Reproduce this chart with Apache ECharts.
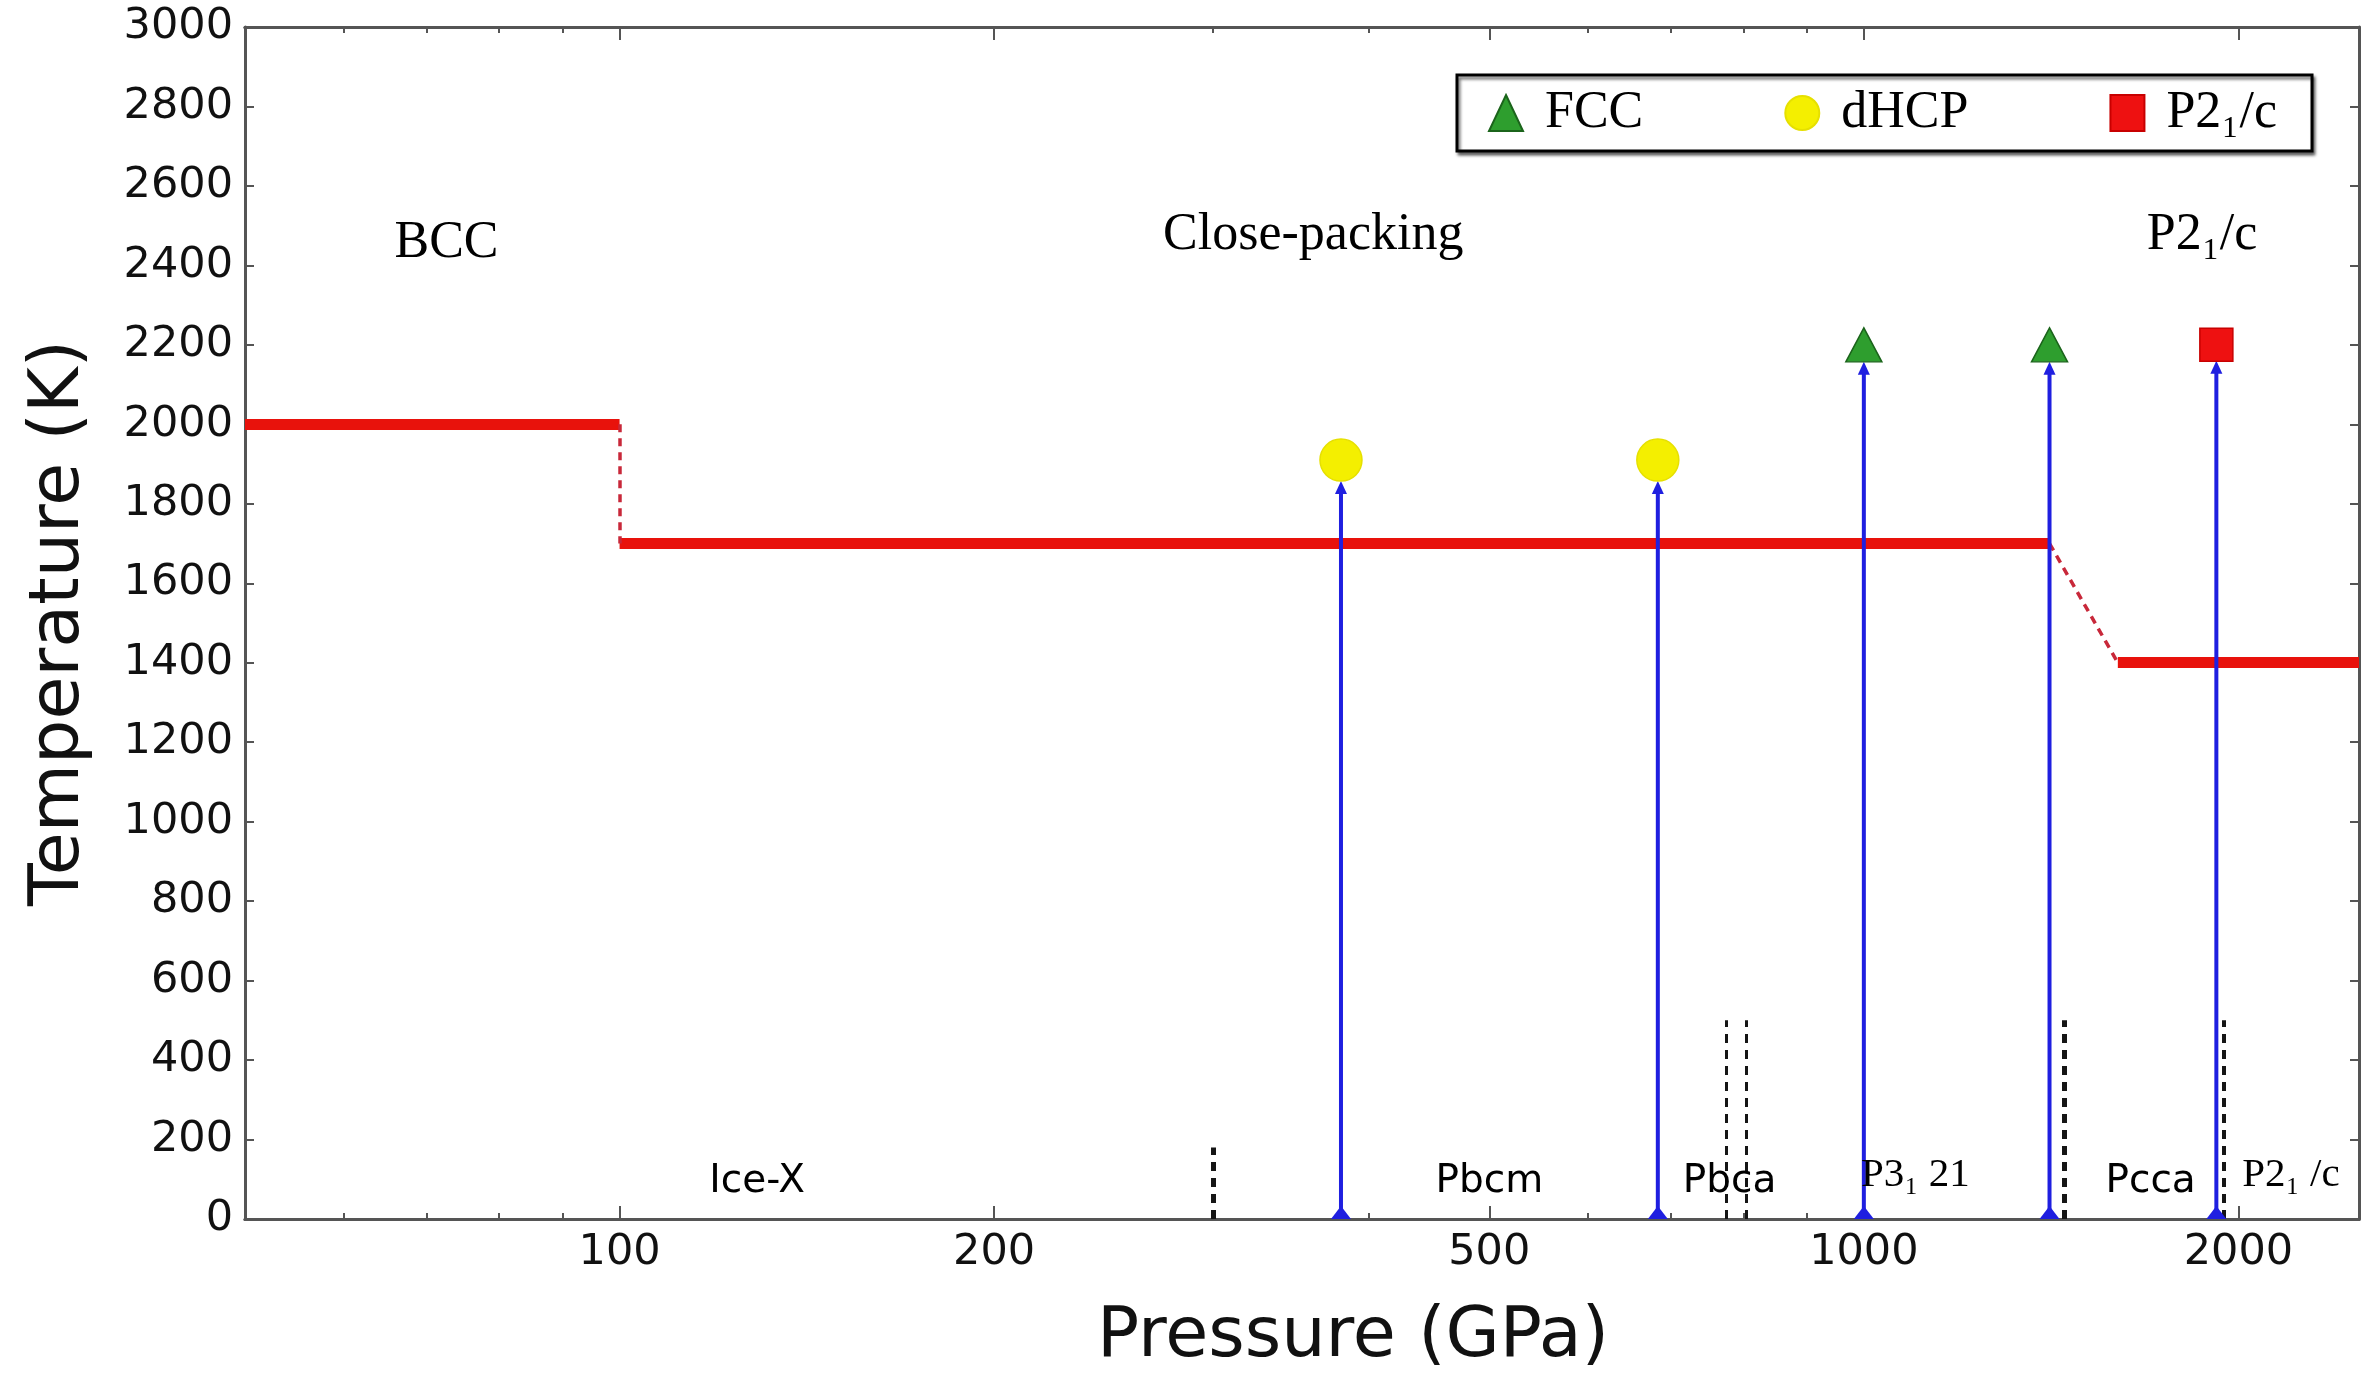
<!DOCTYPE html>
<html>
<head>
<meta charset="utf-8">
<script src="https://cdn.jsdelivr.net/npm/echarts@6/dist/echarts.min.js"></script>
<style>
  html, body { margin: 0; padding: 0; background: #fff; }
  #chart { width: 2362px; height: 1383px; }
</style>
</head>
<body>
<div id="chart"></div>
<script>
// axis ranges
const pressureMin = 50, pressureMax = 2500;
const tempMin = 0, tempMax = 3000, tempStep = 200;
const pressureTicks = [100, 200, 500, 1000, 2000];
const pressureMinorTicks = [60, 70, 80, 90, 300, 400, 600, 700, 800, 900];

// red melting curve: solid pieces and dashed joins
const meltSolid = [
  [[50, 2000], [100, 2000]],
  [[100, 1700], [1410, 1700]],
  [[1600, 1400], [2500, 1400]]
];
const meltDashed = [
  [[100, 2000], [100, 1700]],
  [[1410, 1700], [1600, 1400]]
];

// blue arrows: pressure, final temperature, phase found
const runPressure = [380, 683, 1000, 1410, 1920];
const runTemp = [1910, 1910, 2200, 2200, 2200];
const runPhase = ['dHCP', 'dHCP', 'FCC', 'FCC', 'P21/c'];

// black dashed low temperature boundaries
const boundaryPressure = [300, 775, 805, 1450, 1945];
const boundaryTemp = [180, 500, 500, 500, 500];
const boundaryWidth = [5, 3, 3, 5, 4];

// region labels (serif, upper part)
const regionNames = ['BCC', 'Close-packing', 'P2\u2081/c'];
const regionP = [72.6, 361, 1870];
const regionT = [2455, 2475, 2475];

// solid phase labels (bottom)
const lowNames = ['Ice-X', 'Pbcm', 'Pbca', 'P3\u2081 21', 'Pcca', 'P2\u2081 /c'];
const lowP = [129, 500, 780, 1100, 1700, 2204];
const lowT = [93, 93, 93, 111, 93, 111];
const lowSerif = [false, false, false, true, false, true];

const blue = '#1f1fe0';
const phaseStyle = {
  'FCC':   { symbol: 'triangle', size: [36, 34], color: '#2e9e2e', border: '#1b641b', gap: 17 },
  'dHCP':  { symbol: 'circle',   size: 42,       color: '#f4ef00', border: '#e6e000', gap: 21 },
  'P21/c': { symbol: 'rect',     size: 33,       color: '#ee1111', border: '#c80000', gap: 16 }
};

const sans = 'DejaVu Sans';
const serif = 'Liberation Serif';
const axisColor = '#555';
const plain = v => String(v);

function xAxisBase(pos, ticks, len, labels) {
  return {
    type: 'log', logBase: 10, min: pressureMin, max: pressureMax, position: pos,
    axisLine: { show: true, lineStyle: { color: axisColor, width: 3 } },
    axisTick: { show: true, inside: true, length: len, customValues: ticks, lineStyle: { color: axisColor, width: 2 } },
    axisLabel: labels ? { show: true, customValues: ticks, formatter: plain, margin: 12, fontFamily: sans, fontSize: 43, color: '#111' } : { show: false },
    splitLine: { show: false }, minorTick: { show: false }
  };
}
function yAxisBase(pos, labels) {
  return {
    type: 'value', min: tempMin, max: tempMax, interval: tempStep, position: pos,
    axisLine: { show: true, lineStyle: { color: axisColor, width: 3 } },
    axisTick: { show: true, inside: true, length: 9, lineStyle: { color: axisColor, width: 2 } },
    axisLabel: labels ? { show: true, formatter: plain, margin: 12, fontFamily: sans, fontSize: 43, color: '#111' } : { show: false },
    splitLine: { show: false }
  };
}

const xMain = xAxisBase('bottom', pressureTicks, 13, true);
xMain.name = 'Pressure (GPa)';
xMain.nameLocation = 'middle';
xMain.nameGap = 84;
xMain.nameTextStyle = { fontFamily: sans, fontSize: 70, color: '#111', lineHeight: 70, padding: [0, 0, 0, 102] };

const yMain = yAxisBase('left', true);
yMain.name = 'Temperature (K)';
yMain.nameLocation = 'middle';
yMain.nameRotate = 90;
yMain.nameGap = 150;
yMain.nameTextStyle = { fontFamily: sans, fontSize: 70, color: '#111', lineHeight: 70 };

const markerSeries = Object.keys(phaseStyle).map(name => {
  const s = phaseStyle[name];
  return {
    type: 'scatter', name: name, symbol: s.symbol, symbolSize: s.size, z: 6,
    itemStyle: { color: s.color, borderColor: s.border, borderWidth: 1.5, opacity: 1 },
    data: runPressure.map((p, i) => [p, runTemp[i], runPhase[i]])
      .filter(d => d[2] === name).map(d => [d[0], d[1]])
  };
});

const option = {
  animation: false,
  backgroundColor: '#fff',
  grid: { left: 245, right: 3, top: 27, bottom: 164, containLabel: false },
  xAxis: [
    xMain,
    xAxisBase('bottom', pressureMinorTicks, 6, false),
    xAxisBase('top', pressureTicks, 13, false),
    xAxisBase('top', pressureMinorTicks, 6, false)
  ],
  yAxis: [yMain, yAxisBase('right', false)],
  legend: {
    data: ['FCC', 'dHCP', 'P21/c'],
    left: 1457, top: 75,
    padding: [12, 35, 12, 31],
    itemWidth: 34, itemHeight: 36, itemGap: 141,
    borderColor: '#000', borderWidth: 3, backgroundColor: '#fff',
    shadowColor: 'rgba(0,0,0,0.55)', shadowBlur: 3, shadowOffsetX: 2, shadowOffsetY: 3,
    formatter: n => n === 'P21/c' ? 'P2\u2081/c' : n,
    textStyle: { fontFamily: serif, fontSize: 52, color: '#000', padding: [0, 0, 0, 17] }
  },
  series: [
    {
      type: 'lines', coordinateSystem: 'cartesian2d', z: 3,
      data: meltSolid.map(c => ({ coords: c })),
      lineStyle: { color: '#e8120c', width: 11, opacity: 1, cap: 'butt' },
      symbol: 'none'
    },
    {
      type: 'lines', coordinateSystem: 'cartesian2d', z: 3,
      data: meltDashed.map(c => ({ coords: c })),
      lineStyle: { color: '#c8283a', width: 3.5, opacity: 1, type: [8, 6] },
      symbol: 'none'
    },
    {
      type: 'lines', coordinateSystem: 'cartesian2d', z: 2,
      data: boundaryPressure.map((p, i) => ({
        coords: [[p, 0], [p, boundaryTemp[i]]],
        lineStyle: { width: boundaryWidth[i] }
      })),
      lineStyle: { color: '#151515', width: 4, opacity: 1, type: [9, 7] },
      symbol: 'none'
    },
    {
      type: 'custom', z: 4,
      data: runPressure.map((p, i) => [p, runTemp[i], i]),
      renderItem: function (params, api) {
        const i = api.value(2);
        const gap = phaseStyle[runPhase[i]].gap;
        const base = api.coord([api.value(0), 0]);
        const top = api.coord([api.value(0), api.value(1)]);
        const tipY = top[1] + gap;
        return {
          type: 'group',
          children: [
            { type: 'line', shape: { x1: base[0], y1: base[1], x2: top[0], y2: tipY + 6 },
              style: { stroke: blue, lineWidth: 4 } },
            { type: 'polygon', shape: { points: [[top[0], tipY], [top[0] - 6, tipY + 13], [top[0] + 6, tipY + 13]] },
              style: { fill: blue } },
            { type: 'polygon', shape: { points: [[base[0], base[1] - 13], [base[0] - 10, base[1]], [base[0] + 10, base[1]]] },
              style: { fill: blue } }
          ]
        };
      }
    },
    ...markerSeries,
    {
      type: 'scatter', name: 'regions', symbolSize: 1, z: 7, silent: true,
      itemStyle: { color: 'rgba(0,0,0,0)', opacity: 1 },
      label: { show: true, position: 'inside', formatter: '{b}', fontFamily: serif, fontSize: 52, color: '#000', opacity: 1 },
      data: regionNames.map((n, i) => ({ name: n, value: [regionP[i], regionT[i]] }))
    },
    {
      type: 'scatter', name: 'phases', symbolSize: 1, z: 7, silent: true,
      itemStyle: { color: 'rgba(0,0,0,0)', opacity: 1 },
      label: { show: true, position: 'inside', formatter: '{b}', fontFamily: sans, fontSize: 39, color: '#000', opacity: 1 },
      data: lowNames.map((n, i) => ({
        name: n, value: [lowP[i], lowT[i]],
        label: lowSerif[i] ? { fontFamily: serif, fontSize: 41 } : {}
      }))
    }
  ]
};

const chart = echarts.init(document.getElementById('chart'));
chart.setOption(option);
</script>
</body>
</html>
